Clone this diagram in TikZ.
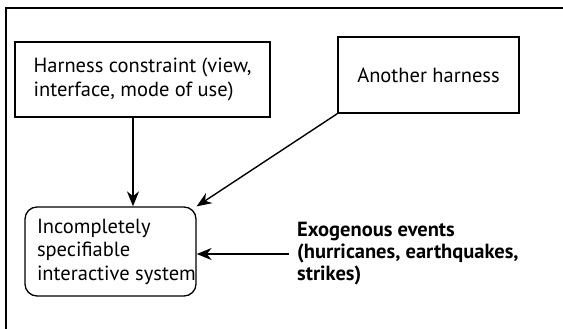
\documentclass[tikz,border=0pt]{standalone}
\usepackage{fontspec}
\setmainfont{PT Sans}
\usetikzlibrary{arrows.meta, positioning}

\tikzset{
  harnessbox/.style={draw, line width=1.3pt, inner sep=0pt, align=left},
  sysbox/.style={draw, line width=1.3pt, rounded corners=12pt, inner xsep=12pt, inner ysep=0pt, align=flush left},
  influence/.style={-{Stealth[length=15pt,width=12pt]}, line width=1.4pt}
}

\begin{document}
\begin{tikzpicture}[x=1pt, y=-1pt, font=\fontsize{20.5}{23.5}\selectfont]
  \useasboundingbox (0,0) rectangle (563,329);
  % Frame (cropped at right and bottom)
  \draw[line width=1.2pt] (6,329) -- (6,8) -- (563,8);
  % Harnesses
  \node[harnessbox, minimum width=255pt, minimum height=75pt] (harness) at (142.5,79.5)
    {Harness constraint (view,\\interface, mode of use)};
  \node[harnessbox, minimum width=181pt, minimum height=76pt] (another) at (428.5,75)
    {Another harness};
  % System under the harnesses
  \node[sysbox, minimum width=171pt, minimum height=89pt, text width=147pt] (system) at (110.5,251.5)
    {Incompletely\\specifiable\\\mbox{interactive system}};
  % Events from outside
  \node[anchor=west, inner xsep=8pt, inner ysep=0pt, align=flush left, font=\fontsize{20.5}{22}\selectfont\bfseries]
    (exogenous) at (289,254)
    {Exogenous events\\(hurricanes, earthquakes,\\strikes)};
  % Connectors
  \draw[influence] (harness.south -| 133,0) -- (system.north -| 133,0);
  \draw[influence] (another.south west) -- (system.north east);
  \draw[influence] (exogenous.west) -- (exogenous.west -| system.east);
\end{tikzpicture}
\end{document}
